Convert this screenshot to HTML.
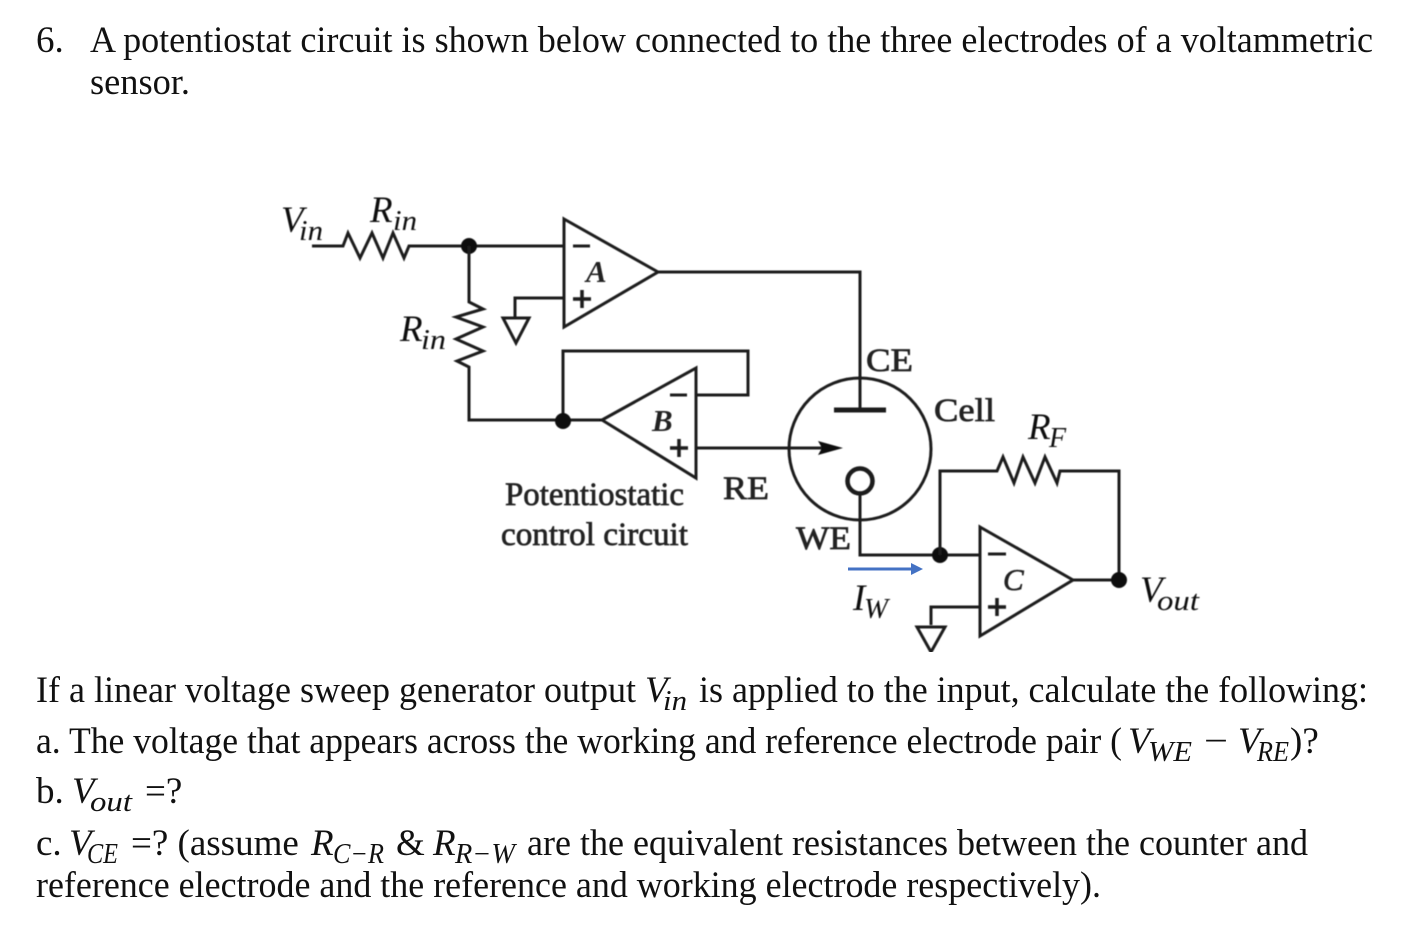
<!DOCTYPE html>
<html><head><meta charset="utf-8"><style>
html,body{margin:0;padding:0;background:#fff}
svg{display:block}
text{font-family:"Liberation Serif",serif;fill:#111}
.t{font-size:37px}
.m{font-size:37px;font-style:italic}
.s{font-size:28px;font-style:italic}
.d{font-size:33px;font-weight:400;fill:#222;stroke:#222;stroke-width:.7px}
.o{font-size:31px;font-weight:700;font-style:italic;fill:#222}
.l{font-size:37px;font-style:italic}
.ls{font-size:28px;font-style:italic}
.w{fill:none;stroke:#1a1a1a;stroke-width:3;stroke-linejoin:miter}
.p{fill:none;stroke:#1a1a1a;stroke-width:3.500}
</style></head><body>
<svg width="1404" height="930" viewBox="0 0 1404 930" xmlns="http://www.w3.org/2000/svg">
<defs><filter id="b" x="0" y="0" width="1" height="1"><feGaussianBlur stdDeviation="0.4"/></filter></defs>
<rect width="1404" height="930" fill="#fff"/>
<text class="t" x="36" y="52">6.</text>
<text class="t" x="90" y="52" textLength="1283" lengthAdjust="spacingAndGlyphs">A potentiostat circuit is shown below connected to the three electrodes of a voltammetric</text>
<text class="t" x="90" y="94" textLength="100" lengthAdjust="spacingAndGlyphs">sensor.</text>

<text class="t" x="36" y="702" textLength="600" lengthAdjust="spacingAndGlyphs">If a linear voltage sweep generator output</text>
<text class="m" x="645" y="702">V</text><text class="s" x="663" y="710" textLength="24" lengthAdjust="spacingAndGlyphs">in</text>
<text class="t" x="699" y="702" textLength="669" lengthAdjust="spacingAndGlyphs">is applied to the input, calculate the following:</text>

<text class="t" x="36" y="753" textLength="1086" lengthAdjust="spacingAndGlyphs">a. The voltage that appears across the working and reference electrode pair (</text>
<text class="m" x="1128" y="753">V</text><text class="s" x="1148" y="761" textLength="44" lengthAdjust="spacingAndGlyphs">WE</text>
<text class="t" x="1204" y="753" textLength="24" lengthAdjust="spacingAndGlyphs">−</text>
<text class="m" x="1238" y="753">V</text><text class="s" x="1257" y="761" textLength="32" lengthAdjust="spacingAndGlyphs">RE</text>
<text class="t" x="1290" y="753">)?</text>

<text class="t" x="36" y="803">b.</text>
<text class="m" x="72" y="803">V</text><text class="s" x="90" y="811" textLength="42" lengthAdjust="spacingAndGlyphs">out</text>
<text class="t" x="145" y="803">=?</text>

<text class="t" x="36" y="855">c.</text>
<text class="m" x="69" y="855">V</text><text class="s" x="87" y="863" textLength="31" lengthAdjust="spacingAndGlyphs">CE</text>
<text class="t" x="131" y="855">=? (assume</text>
<text class="m" x="311" y="855">R</text><text class="s" x="333" y="863" textLength="51" lengthAdjust="spacingAndGlyphs">C−R</text>
<text class="t" x="396" y="855">&amp;</text>
<text class="m" x="433" y="855">R</text><text class="s" x="455" y="863" textLength="60" lengthAdjust="spacingAndGlyphs">R−W</text>
<text class="t" x="527" y="855" textLength="781" lengthAdjust="spacingAndGlyphs">are the equivalent resistances between the counter and</text>
<text class="t" x="36" y="897" textLength="1065" lengthAdjust="spacingAndGlyphs">reference electrode and the reference and working electrode respectively).</text>

<g filter="url(#b)">
<!-- A section -->
<path class="w" d="M312 246H343L348 233L360 258L372 233L383 258L393 233L404 258L409 246H564"/>
<path class="w" d="M564 219L658 272L564 327Z"/>
<path class="w" d="M658 272H860V410"/>
<path class="w" d="M573 246H590"/>
<path class="p" d="M573 299H591M582 290V308"/>
<path class="w" d="M564 298H515V317"/>
<path class="w" d="M503 318H529L516 343Z"/>
<circle cx="469" cy="246" r="8" fill="#111"/>
<path class="w" d="M469 246V302L483 309L456 317L483 327L456 339L483 351L457 361L469 367V420H602"/>
<!-- B section -->
<path class="w" d="M602 420L696 368V478Z"/>
<path class="w" d="M563 421V351H748V395H696"/>
<path class="w" d="M670 395H687"/>
<path class="p" d="M670 448H688M679 439V457"/>
<path class="w" d="M696 448H825"/>
<path d="M843 448L818 441L822 448L818 455Z" fill="#111"/>
<circle cx="563" cy="421" r="8" fill="#111"/>
<!-- Cell -->
<circle cx="860" cy="449" r="71" class="w"/>
<path d="M834 410H886" stroke="#1a1a1a" stroke-width="5" fill="none"/>
<circle cx="860" cy="481" r="12.500" fill="none" stroke="#1a1a1a" stroke-width="4.500"/>
<path class="w" d="M860 494V555H980"/>
<circle cx="940" cy="555" r="8" fill="#111"/>
<!-- C section -->
<path class="w" d="M980 527L1073 580L980 636Z"/>
<path class="w" d="M988 554H1006"/>
<path class="p" d="M988 607H1006M997 598V616"/>
<path class="w" d="M1073 580H1119V471H1060L1057 483L1045 457L1035 483L1023 457L1014 483L1003 457L997 471H940V555"/>
<circle cx="1119" cy="580" r="8" fill="#111"/>
<path class="w" d="M980 607H931V625"/>
<path class="w" d="M917 627H945L931 652Z"/>
<!-- diagram labels -->
<text class="l" x="281" y="232">V</text><text class="ls" x="299" y="240" textLength="24" lengthAdjust="spacingAndGlyphs">in</text>
<text class="l" x="370" y="222">R</text><text class="ls" x="393" y="230" textLength="24" lengthAdjust="spacingAndGlyphs">in</text>
<text class="l" x="400" y="341">R</text><text class="ls" x="421" y="349" textLength="25" lengthAdjust="spacingAndGlyphs">in</text>
<text class="o" x="586" y="282">A</text>
<text class="o" x="652" y="431">B</text>
<text class="o" x="1003" y="590" style="font-weight:400;stroke:#222;stroke-width:.6px">C</text>
<text class="d" x="505" y="505" textLength="179" lengthAdjust="spacingAndGlyphs">Potentiostatic</text>
<text class="d" x="501" y="545" textLength="187" lengthAdjust="spacingAndGlyphs">control circuit</text>
<text class="d" x="723" y="499" textLength="46" lengthAdjust="spacingAndGlyphs">RE</text>
<text class="d" x="796" y="549" textLength="55" lengthAdjust="spacingAndGlyphs">WE</text>
<text class="d" x="866" y="371" textLength="47" lengthAdjust="spacingAndGlyphs">CE</text>
<text class="d" x="934" y="421" textLength="61" lengthAdjust="spacingAndGlyphs">Cell</text>
<text class="l" x="1028" y="439">R</text><text class="ls" x="1049" y="447">F</text>
<text class="l" x="853" y="610">I</text><text class="ls" x="864" y="618" textLength="24" lengthAdjust="spacingAndGlyphs">W</text>
<text class="l" x="1140" y="602">V</text><text class="ls" x="1157" y="610" textLength="42" lengthAdjust="spacingAndGlyphs">out</text>
</g>
<!-- blue arrow -->
<path d="M848 569H912" stroke="#4472c4" stroke-width="3" fill="none"/>
<path d="M923 569L911 563V575Z" fill="#4472c4"/>
</svg>
</body></html>
